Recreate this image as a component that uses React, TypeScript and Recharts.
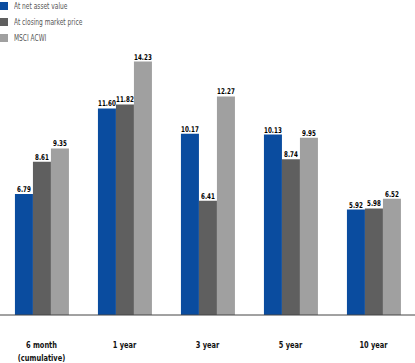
import React from "react";
import { BarChart, Bar, XAxis, YAxis, LabelList } from "recharts";

const categories = ["6 month\n(cumulative)", "1 year", "3 year", "5 year", "10 year"];
const navValues = [6.79, 11.6, 10.17, 10.13, 5.92];
const marketValues = [8.61, 11.82, 6.41, 8.74, 5.98];
const acwiValues = [9.35, 14.23, 12.27, 9.95, 6.52];
const seriesNames = ["At net asset value", "At closing market price", "MSCI ACWI"];
const seriesColors = ["#0a4c9f", "#5f5f5f", "#a0a0a0"];

const data = categories.map((c, i) => ({
  name: c,
  nav: navValues[i],
  market: marketValues[i],
  acwi: acwiValues[i],
}));

const FONT = "'DejaVu Sans Condensed', 'Liberation Sans Narrow', 'Liberation Sans', sans-serif";

const Tick = (props: any) => {
  const { x, y, payload } = props;
  const lines = String(payload.value).split("\n");
  return (
    <g transform={`translate(${x},${y}) scale(0.82,1)`}>
      {lines.map((l: string, i: number) => (
        <text
          key={i}
          x={0}
          y={25 + i * 13}
          textAnchor="middle"
          fontFamily={FONT}
          fontWeight="bold"
          fontSize={9}
          fill="#111"
        >
          {l}
        </text>
      ))}
    </g>
  );
};

const ValueLabel = (props: any) => {
  const { x, y, width, value } = props;
  const cx = Number(x) + Number(width) / 2;
  return (
    <g transform={`translate(${cx},${Number(y) - 2}) scale(0.78,1)`}>
      <text x={0} y={0} textAnchor="middle" fontFamily={FONT} fontWeight="bold" fontSize={8} fill="#000">
        {Number(value).toFixed(2)}
      </text>
    </g>
  );
};

export default function App() {
  return (
    <div style={{ position: "absolute", left: 0, top: 0, width: 415, height: 363, background: "#fff" }}>
      <div style={{ position: "absolute", left: 0, top: 0, zIndex: 2 }}>
        {seriesNames.map((n, i) => (
          <div key={n} style={{ position: "absolute", left: 0, top: 2 + i * 16, width: 200, height: 10 }}>
            <div style={{ position: "absolute", left: 0, top: 0, width: 8, height: 8, background: seriesColors[i] }} />
            <div
              style={{
                position: "absolute",
                left: 14,
                top: -2,
                fontFamily: FONT,
                fontSize: 9,
                color: "#555",
                whiteSpace: "nowrap",
                lineHeight: "12px",
                transform: "scaleX(0.73)",
                transformOrigin: "0 0",
              }}
            >
              {n}
            </div>
          </div>
        ))}
      </div>
      <BarChart
        width={415}
        height={363}
        data={data}
        margin={{ top: 30, right: 0, bottom: 0, left: 0 }}
        barCategoryGap="18%"
        barGap={0}
      >
        <XAxis
          dataKey="name"
          height={48}
          tickLine={false}
          axisLine={{ stroke: "#444", strokeWidth: 1 }}
          tick={<Tick />}
          interval={0}
        />
        <YAxis hide domain={[0, 16]} />
        <Bar dataKey="nav" fill={seriesColors[0]} isAnimationActive={false}>
          <LabelList dataKey="nav" content={<ValueLabel />} />
        </Bar>
        <Bar dataKey="market" fill={seriesColors[1]} isAnimationActive={false}>
          <LabelList dataKey="market" content={<ValueLabel />} />
        </Bar>
        <Bar dataKey="acwi" fill={seriesColors[2]} isAnimationActive={false}>
          <LabelList dataKey="acwi" content={<ValueLabel />} />
        </Bar>
      </BarChart>
    </div>
  );
}
